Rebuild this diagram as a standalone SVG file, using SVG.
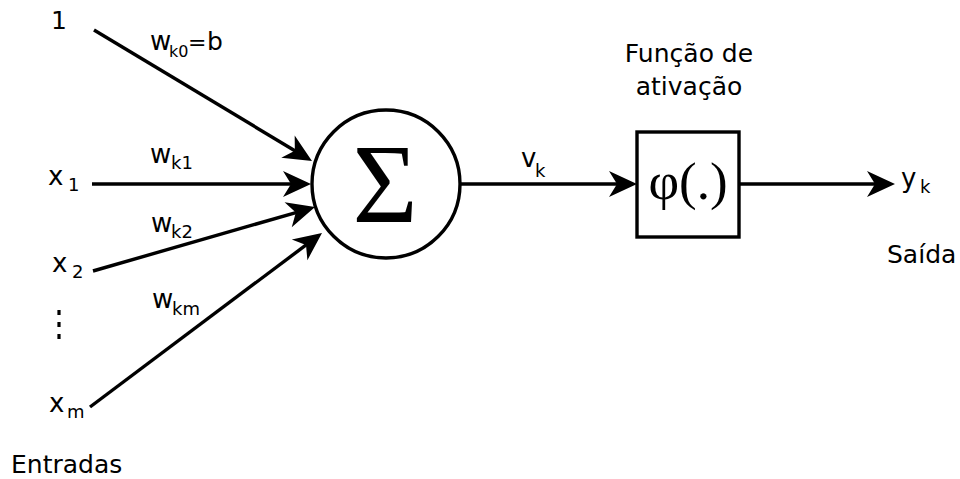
<svg xmlns="http://www.w3.org/2000/svg" width="960" height="479" viewBox="0 0 960 479">
<style>
.t{font-family:"DejaVu Sans",sans-serif;font-size:25px;fill:#000}
.v{font-size:26px}
.s{font-size:18px}
.c{stroke:#000;stroke-width:3.4;fill:none}
.serif{font-family:"Liberation Serif","Times New Roman",serif;fill:#000}
</style>
<defs>
<marker id="ah" markerUnits="userSpaceOnUse" markerWidth="40" markerHeight="40" refX="0" refY="0" orient="auto" overflow="visible">
<path d="M-9,-13 L19,0 L-9,13 L-1,0 Z" fill="#000"/>
</marker>
</defs>
<rect width="960" height="479" fill="#fff"/>
<g id="connectors">
<line class="c" x1="94" y1="30" x2="295.7" y2="151.2" marker-end="url(#ah)"/>
<line class="c" x1="92" y1="184" x2="292" y2="184" marker-end="url(#ah)"/>
<line class="c" x1="93" y1="271" x2="296.8" y2="212.3" marker-end="url(#ah)"/>
<line class="c" x1="90" y1="407" x2="306.8" y2="244.4" marker-end="url(#ah)"/>
<line class="c" x1="460" y1="184" x2="618" y2="184" marker-end="url(#ah)"/>
<line class="c" x1="739" y1="184" x2="876" y2="184" marker-end="url(#ah)"/>
</g>
<g id="sum">
<circle cx="386" cy="184" r="74" class="c" stroke-width="3"/>
<text class="serif" x="385" y="222" font-size="112" text-anchor="middle">Σ</text>
</g>
<g id="activation">
<rect x="637" y="132" width="102" height="105" class="c" stroke-width="3"/>
<text class="serif" x="688" y="199" font-size="53" text-anchor="middle">φ(.)</text>
<text class="t" x="689" y="62" text-anchor="middle">Função de</text>
<text class="t" x="689" y="95" text-anchor="middle">ativação</text>
</g>
<g id="inputs">
<text class="t" x="51" y="29">1</text>
<text class="t v" x="48" y="185">x<tspan class="s" x="68" y="191">1</tspan></text>
<text class="t v" x="52" y="272">x<tspan class="s" x="72" y="278">2</tspan></text>
<line x1="59" y1="310" x2="59" y2="343" stroke="#000" stroke-width="3.2" stroke-dasharray="5 7"/>
<text class="t v" x="49" y="412">x<tspan class="s" x="67" y="418">m</tspan></text>
<text class="t" x="11" y="473">Entradas</text>
</g>
<g id="weights">
<text class="t v" x="150" y="50">w<tspan x="169" y="57" font-size="16">k0</tspan><tspan x="188" y="50" font-size="22">=</tspan><tspan x="207" y="50" font-size="25">b</tspan></text>
<text class="t v" x="150" y="163">w<tspan class="s" x="171" y="169">k1</tspan></text>
<text class="t v" x="151" y="232">w<tspan class="s" x="171" y="238">k2</tspan></text>
<text class="t v" x="152" y="308">w<tspan class="s" x="172" y="315">km</tspan></text>
</g>
<g id="output">
<text class="t v" x="521" y="167">v<tspan class="s" x="535" y="177">k</tspan></text>
<text class="t v" x="901" y="187">y<tspan class="s" x="920" y="193">k</tspan></text>
<text class="t" x="887" y="263">Saída</text>
</g>
</svg>
